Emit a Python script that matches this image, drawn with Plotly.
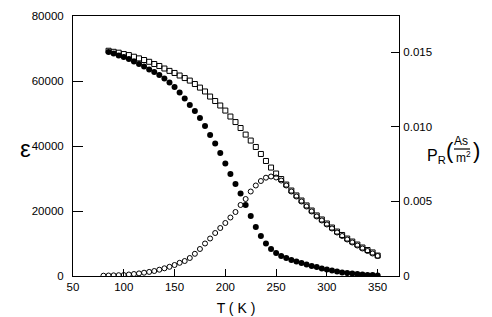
import plotly.graph_objects as go

# Temperature grids (K)
T_eps = list(range(80, 355, 5))
T_pr = list(range(85, 355, 5))

# Dielectric constant (open circles), left axis
eps = [100, 150, 200, 250, 300, 460, 615, 800, 1015, 1260, 1540, 1940, 2370, 2830,
       3385, 4060, 4615, 5540, 6830, 8310, 10000, 11540, 13230, 14770, 16310, 18000,
       19690, 21850, 23690, 26000, 27850, 29230, 30250, 30620, 30310, 29380, 27850,
       26000, 24460, 22920, 21380, 19850, 18310, 17080, 15850, 14620, 13380, 12310,
       11230, 10310, 9380, 8460, 7690, 6920, 6150]

# Remanent polarisation (filled circles), right axis, As/m^2
pr_filled = [0.01501, 0.01491, 0.01478, 0.01468, 0.01454, 0.01438, 0.01421, 0.01404,
             0.01384, 0.01367, 0.01347, 0.01324, 0.01297, 0.01267, 0.01230, 0.01190,
             0.01146, 0.01106, 0.01059, 0.01005, 0.00945, 0.00888, 0.00824, 0.00754,
             0.00684, 0.00617, 0.00553, 0.00476, 0.00402, 0.00328, 0.00268, 0.00218,
             0.00181, 0.00154, 0.00134, 0.00121, 0.00107, 0.00097, 0.00087, 0.00077,
             0.00067, 0.00060, 0.00050, 0.00044, 0.00037, 0.00030, 0.00023, 0.00020,
             0.00017, 0.00013, 0.00010, 0.00007, 0.00007, 0.00003]

# Second polarisation series (open squares), right axis
pr_squares = [0.01510, 0.01503, 0.01497, 0.01488, 0.01481, 0.01470, 0.01459, 0.01448,
              0.01436, 0.01421, 0.01408, 0.01391, 0.01375, 0.01361, 0.01344, 0.01327,
              0.01310, 0.01287, 0.01263, 0.01237, 0.01203, 0.01173, 0.01143, 0.01109,
              0.01069, 0.01032, 0.00992, 0.00948, 0.00908, 0.00865, 0.00818, 0.00771,
              0.00727, 0.00687, 0.00650, 0.00613, 0.00573, 0.00540, 0.00506, 0.00473,
              0.00439, 0.00406, 0.00379, 0.00352, 0.00325, 0.00298, 0.00275, 0.00251,
              0.00231, 0.00211, 0.00191, 0.00174, 0.00158, 0.00137]

x_ticks = [50, 100, 150, 200, 250, 300, 350]
y_ticks = [0, 20000, 40000, 60000, 80000]
y_labels = ["0", "20000", "40000", "60000", "80000"]
y2_ticks = [0, 0.005, 0.010, 0.015]
y2_labels = ["0", "0.005", "0.010", "0.015"]

FONT = "Liberation Sans Narrow, Liberation Sans, Arial Narrow, sans-serif"
TICKFONT = dict(family=FONT, size=11.5, color="black")

fig = go.Figure()
fig.add_trace(go.Scatter(x=T_eps, y=eps, mode="markers",
                         marker=dict(symbol="circle-open", size=5, color="black",
                                     line=dict(width=1, color="black")),
                         yaxis="y"))
fig.add_trace(go.Scatter(x=T_pr, y=pr_squares, mode="markers",
                         marker=dict(symbol="square-open", size=5, color="black",
                                     line=dict(width=1, color="black")),
                         yaxis="y2"))
fig.add_trace(go.Scatter(x=T_pr, y=pr_filled, mode="markers",
                         marker=dict(symbol="circle", size=6, color="black"),
                         yaxis="y2"))

# The page body adds an 8 px offset; the figure is sized to compensate.
fig.update_layout(
    width=484, height=309,
    margin=dict(l=65, r=93, t=8, b=41),
    paper_bgcolor="white", plot_bgcolor="white",
    showlegend=False,
    font=dict(family=FONT, size=14, color="black"),
    xaxis=dict(range=[50, 371], tickvals=x_ticks, ticks="inside", ticklen=7,
               tickcolor="black", showline=True, linecolor="black", linewidth=1,
               mirror=True, showgrid=False, zeroline=False, tickfont=TICKFONT,
               automargin=False,
               title=dict(text="T ( K )", font=dict(size=14), standoff=11)),
    yaxis=dict(range=[0, 80000], tickvals=y_ticks, ticktext=y_labels, ticks="inside",
               ticklen=10, tickcolor="black", showline=True, linecolor="black",
               linewidth=1, showgrid=False, zeroline=False, ticklabelstandoff=6,
               tickfont=TICKFONT, automargin=False),
    yaxis2=dict(range=[0, 0.01743], tickvals=y2_ticks, ticktext=y2_labels,
                overlaying="y", side="right", ticks="inside", ticklen=8,
                tickcolor="black", showline=True, linecolor="black", linewidth=1,
                showgrid=False, zeroline=False, ticklabelstandoff=1,
                tickfont=TICKFONT, automargin=False),
)

def px(xp):
    return (xp - 73) / 326.0

def py(yp):
    return (276 - yp) / 260.0

ann = [
    dict(text="ε", x=px(25), y=py(148), size=24),
    dict(text="P<sub>R</sub>", x=px(436), y=py(156), size=16),
    dict(text="(", x=px(450), y=py(150), size=22),
    dict(text="As", x=px(461), y=py(141), size=12),
    dict(text="m<sup>2</sup>", x=px(463), y=py(157), size=12),
    dict(text=")", x=px(476), y=py(150), size=22),
]
for a in ann:
    fig.add_annotation(text=a["text"], x=a["x"], y=a["y"], xref="paper", yref="paper",
                       showarrow=False, font=dict(family=FONT, size=a["size"], color="black"),
                       xanchor="center", yanchor="middle", borderpad=0)

fig.add_shape(type="line", xref="paper", yref="paper",
              x0=px(454), x1=px(470), y0=py(149), y1=py(149),
              line=dict(color="black", width=1.2))

fig.write_html("out.html")
